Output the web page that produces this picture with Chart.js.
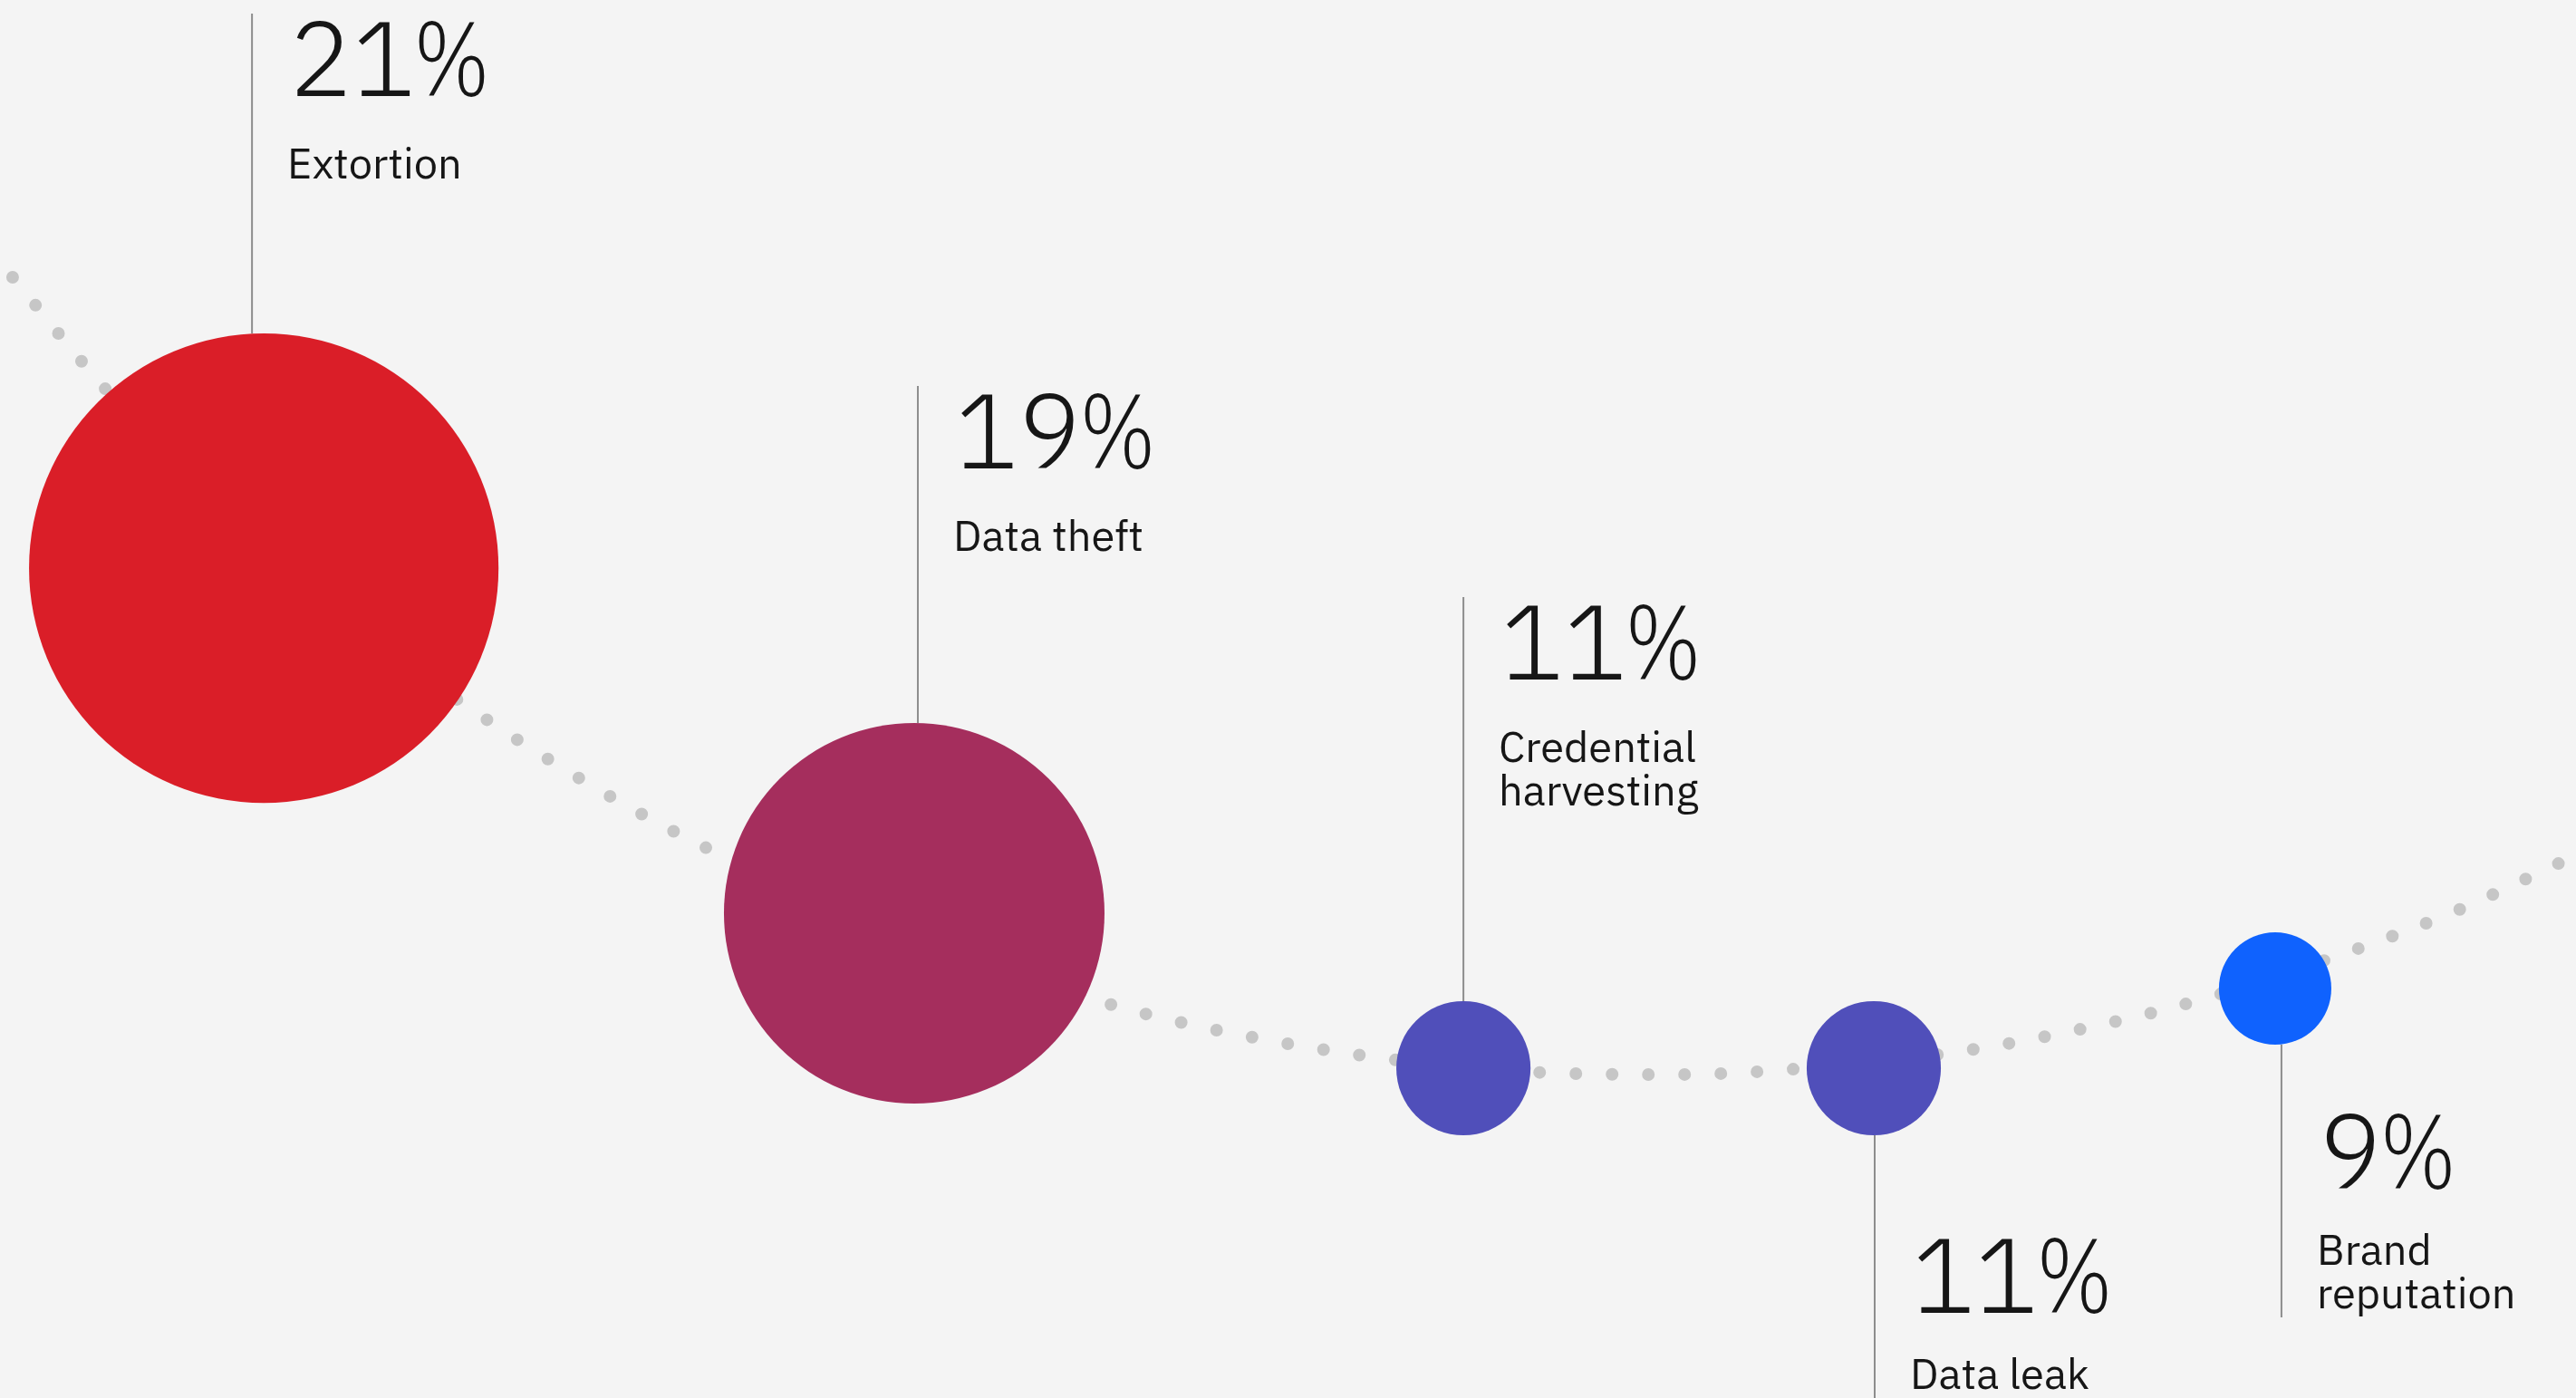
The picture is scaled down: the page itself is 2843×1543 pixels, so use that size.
<!DOCTYPE html>
<html>
<head>
<meta charset="utf-8">
<script src="https://cdn.jsdelivr.net/npm/chart.js@4/dist/chart.umd.min.js"></script>
<style>
  html, body { margin: 0; padding: 0; background: #f4f4f4; }
  #wrap { width: 2843px; height: 1543px; position: relative; }
</style>
</head>
<body>
<div id="wrap"><canvas id="c"></canvas></div>
<script>
// ---- Data (positions in % of the plotting area) ----
const categories = ['Extortion', 'Data theft', 'Credential harvesting', 'Data leak', 'Brand reputation'];
const labelLines = [['Extortion'], ['Data theft'], ['Credential', 'harvesting'], ['Data leak'], ['Brand', 'reputation']];
const shares = [21, 19, 11, 11, 9];
const bubbleX = [10.24, 35.49, 56.81, 72.74, 88.32];
const bubbleY = [59.36, 34.67, 23.59, 23.59, 29.29];
const bubbleSize = [16.79, 13.61, 4.80, 4.80, 4.02];   // radius, % of chart height

// dotted guide curve
const curveX = [0.49, 4.08, 10.55, 17.90, 23.14, 28.07, 35.53, 42.56, 46.71, 53.68, 59.34, 64.93, 69.19, 76.19, 81.74, 85.86, 91.24, 95.22, 100];
const curveY = [80.17, 72.20, 59.82, 49.77, 43.62, 38.76, 32.86, 28.45, 26.51, 24.30, 23.33, 23.14, 23.46, 24.82, 26.77, 28.71, 31.95, 34.74, 38.82];

// ---- Styles / layout ----
const bubbleColors = ['#da1e28', '#a52e5d', '#504fba', '#504fba', '#0f62fe'];
const calloutDir = ['up', 'up', 'up', 'down', 'down'];
const calloutStem = [353, 372, 446, 290, 301];
const calloutDx = [-13, 4, 0, 1, 7];
const FONT = '"IBM Plex Sans", Roboto, "Noto Sans", sans-serif';

const calloutPlugin = {
  id: 'callouts',
  afterDatasetsDraw(chart) {
    const ctx = chart.ctx;
    const meta = chart.getDatasetMeta(1);
    meta.data.forEach((el, i) => {
      const r = el.options.radius;
      const lx = el.x + calloutDx[i];
      const tx = lx + 41;
      const lines = labelLines[i];
      ctx.save();
      ctx.strokeStyle = '#8d8d8d';
      ctx.lineWidth = 2;
      ctx.fillStyle = '#161616';
      ctx.textBaseline = 'alphabetic';
      ctx.textAlign = 'left';
      let pctBase, labBase;
      ctx.beginPath();
      if (calloutDir[i] === 'up') {
        const y0 = el.y - r;
        const top = y0 - calloutStem[i];
        ctx.moveTo(lx, y0); ctx.lineTo(lx, top);
        pctBase = top + 91;
        labBase = pctBase + 91;
      } else {
        const y0 = el.y + r;
        const bot = y0 + calloutStem[i];
        ctx.moveTo(lx, y0); ctx.lineTo(lx, bot);
        const lastBase = bot - 10;
        labBase = lastBase - 48 * (lines.length - 1);
        pctBase = labBase - 84;
      }
      ctx.stroke();
      ctx.font = '300 116px ' + FONT;
      const num = String(shares[i]);
      ctx.fillText(num, tx, pctBase);
      const w = ctx.measureText(num).width;
      ctx.save();
      ctx.translate(tx + w - 2, pctBase);
      ctx.scale(0.8, 1);
      ctx.fillText('%', 0, 0);
      ctx.restore();
      ctx.font = '400 47px ' + FONT;
      lines.forEach((t, k) => ctx.fillText(t, tx - 2, labBase + k * 48));
      ctx.restore();
    });
  }
};

const H = 1543;
new Chart(document.getElementById('c'), {
  type: 'bubble',
  data: {
    datasets: [
      {
        type: 'line',
        label: 'curve',
        data: curveX.map((x, i) => ({ x, y: curveY[i] })),
        borderColor: '#c6c6c6',
        borderWidth: 14,
        borderDash: [0, 40],
        borderCapStyle: 'round',
        pointRadius: 0,
        cubicInterpolationMode: 'monotone',
        fill: false,
        order: 2,
        clip: false
      },
      {
        type: 'bubble',
        label: 'shares',
        data: bubbleX.map((x, i) => ({ x, y: bubbleY[i], r: bubbleSize[i] / 100 * H })),
        backgroundColor: bubbleColors,
        borderWidth: 0,
        hoverBorderWidth: 0,
        order: 1,
        clip: false
      }
    ]
  },
  options: {
    responsive: true,
    maintainAspectRatio: false,
    animation: false,
    events: [],
    layout: { padding: 0, autoPadding: false },
    plugins: { legend: { display: false }, tooltip: { enabled: false } },
    scales: {
      x: { type: 'linear', min: 0, max: 100, display: false },
      y: { type: 'linear', min: 0, max: 100, display: false }
    }
  },
  plugins: [calloutPlugin]
});
</script>
</body>
</html>
